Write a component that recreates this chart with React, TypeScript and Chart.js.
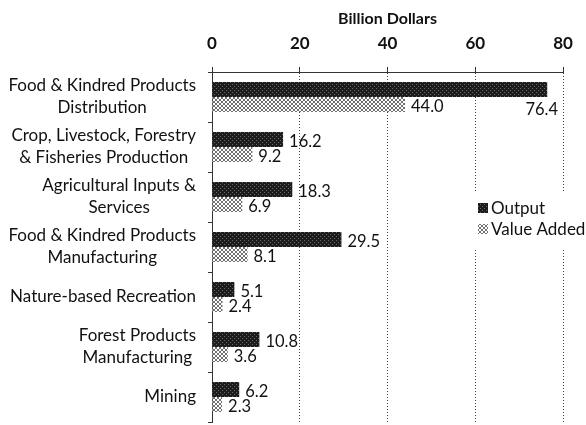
import React, { useEffect, useRef } from "react";
import { Chart, registerables } from "chart.js";

Chart.register(...registerables);

const categories: string[][] = [
  ["Food & Kindred Products", "Distribution"],
  ["Crop, Livestock, Forestry", "& Fisheries Production"],
  ["Agricultural Inputs &", "Services"],
  ["Food & Kindred Products", "Manufacturing"],
  ["Nature-based Recreation"],
  ["Forest Products", "Manufacturing"],
  ["Mining"],
];
const outputValues = [76.4, 16.2, 18.3, 29.5, 5.1, 10.8, 6.2];
const valueAddedValues = [44.0, 9.2, 6.9, 8.1, 2.4, 3.6, 2.3];
const seriesNames = ["Output", "Value Added"];
const axisTitle = "Billion Dollars";

const FONT = "Lato, 'Open Sans', sans-serif";

function makePattern(kind: "dark" | "light"): CanvasPattern | string {
  const c = document.createElement("canvas");
  c.width = 4;
  c.height = 4;
  const g = c.getContext("2d");
  if (!g) return kind === "dark" ? "#222" : "#aaa";
  if (kind === "dark") {
    g.fillStyle = "#1c1c1c";
    g.fillRect(0, 0, 4, 4);
    g.fillStyle = "#6a6a6a";
    g.fillRect(0, 0, 1, 1);
    g.fillRect(2, 2, 1, 1);
  } else {
    g.fillStyle = "#ffffff";
    g.fillRect(0, 0, 4, 4);
    g.fillStyle = "#707070";
    for (let i = 0; i < 4; i++) {
      g.fillRect(i, i, 1, 1);
      g.fillRect(3 - i, i, 1, 1);
    }
  }
  return g.createPattern(c, "repeat") || "#888";
}

export default function App() {
  const ref = useRef<HTMLCanvasElement | null>(null);

  useEffect(() => {
    if (!ref.current) return;
    const darkPat = makePattern("dark");
    const lightPat = makePattern("light");

    const labelPlugin = {
      id: "customLabels",
      afterDraw(chart: any) {
        const ctx = chart.ctx as CanvasRenderingContext2D;
        const area = chart.chartArea;
        const yScale = chart.scales.y;
        ctx.save();
        // category labels
        ctx.font = `17px ${FONT}`;
        ctx.fillStyle = "#111";
        ctx.textBaseline = "middle";
        ctx.textAlign = "center";
        categories.forEach((lines, i) => {
          const cy = yScale.getPixelForValue(i);
          const maxW = Math.max(...lines.map((l) => ctx.measureText(l).width));
          const cx = 196 - maxW / 2;
          const lh = 22;
          const startY = cy - ((lines.length - 1) * lh) / 2;
          lines.forEach((l, j) => ctx.fillText(l, cx, startY + j * lh));
        });
        // data labels
        ctx.font = `16.5px ${FONT}`;
        chart.data.datasets.forEach((ds: any, di: number) => {
          const meta = chart.getDatasetMeta(di);
          meta.data.forEach((el: any, idx: number) => {
            const v = ds.data[idx] as number;
            const txt = v.toFixed(1);
            const w = ctx.measureText(txt).width;
            let x = el.x + 6;
            let y = el.y + 2;
            ctx.textAlign = "left";
            if (x + w > area.right - 2) {
              ctx.textAlign = "right";
              x = area.right - 5;
              y = el.y + el.height + 5;
            }
            ctx.fillText(txt, x, y);
          });
        });
        // legend
        const lx = 472;
        const ly = 193;
        ctx.fillStyle = "#fff";
        ctx.fillRect(lx, ly, 586 - lx, 56);
        ctx.font = `17px ${FONT}`;
        const items = [
          { name: seriesNames[0], fill: darkPat },
          { name: seriesNames[1], fill: lightPat },
        ];
        items.forEach((it, i) => {
          const yy = 208 + i * 21;
          ctx.fillStyle = it.fill as any;
          ctx.fillRect(478, yy - 5, 10, 10);
          ctx.fillStyle = "#111";
          ctx.textAlign = "left";
          ctx.fillText(it.name, 491, yy + 1);
        });
        ctx.restore();
      },
    };

    const chart = new Chart(ref.current, {
      type: "bar",
      data: {
        labels: categories.map((c) => c.join(" ")),
        datasets: [
          {
            label: seriesNames[0],
            data: outputValues,
            backgroundColor: darkPat as any,
            borderWidth: 0,
            categoryPercentage: 0.6,
            barPercentage: 1.0,
          },
          {
            label: seriesNames[1],
            data: valueAddedValues,
            backgroundColor: lightPat as any,
            borderWidth: 0,
            categoryPercentage: 0.6,
            barPercentage: 1.0,
          },
        ],
      },
      options: {
        indexAxis: "y",
        animation: false,
        responsive: true,
        maintainAspectRatio: false,
        layout: { padding: { top: 0, right: 23, bottom: 3, left: 0 } },
        plugins: {
          legend: { display: false },
          tooltip: { enabled: false },
        },
        scales: {
          x: {
            position: "top",
            min: 0,
            max: 80,
            ticks: {
              stepSize: 20,
              color: "#111",
              padding: 13,
              font: { family: FONT, size: 17, weight: "bold" },
            },
            grid: {
              color: "#444",
              lineWidth: 1,
              tickLength: 5,
              tickColor: "#333",
            },
            border: { display: true, color: "#333", width: 1, dash: [1, 2] },
            title: {
              display: true,
              text: axisTitle,
              color: "#111",
              font: { family: FONT, size: 16, weight: "bold" },
              padding: { top: 9, bottom: 0 },
            },
            afterFit(scale: any) {
              scale.height = 72;
            },
          },
          y: {
            ticks: { display: false },
            grid: {
              display: true,
              drawOnChartArea: false,
              offset: true,
              tickLength: 4,
              color: "#333",
            },
            border: { display: true, color: "#333", width: 1 },
            afterFit(scale: any) {
              scale.width = 212;
            },
          },
        },
      },
      plugins: [labelPlugin],
    });
    return () => chart.destroy();
  }, []);

  return (
    <div style={{ position: "fixed", left: 0, top: 0, width: 586, height: 425, background: "#fff" }}>
      <canvas ref={ref} />
    </div>
  );
}
